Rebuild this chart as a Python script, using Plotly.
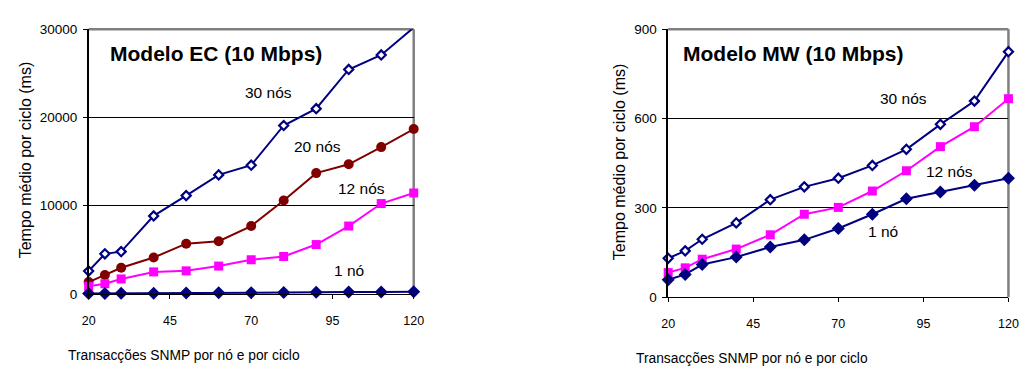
import plotly.graph_objects as go

# Transactions per node per cycle (shared x values)
transacoes = [20, 25, 30, 40, 50, 60, 70, 80, 90, 100, 110, 120]
x_ticks = [20, 45, 70, 95, 120]
ec_ticks = [0, 10000, 20000, 30000]
mw_ticks = [0, 300, 600, 900]

# Modelo EC (10 Mbps) - mean time per cycle (ms)
ec_30_nos = [2600, 4550, 4800, 8850, 11150, 13500, 14600, 19100, 21000, 25450, 27100, 30200]
ec_20_nos = [1350, 2150, 2970, 4130, 5700, 5980, 7700, 10600, 13700, 14700, 16650, 18700]
ec_12_nos = [870, 1160, 1700, 2500, 2620, 3160, 3880, 4250, 5600, 7700, 10250, 11450]
ec_1_no = [40, 55, 70, 90, 110, 130, 150, 170, 190, 210, 230, 250]

# Modelo MW (10 Mbps) - mean time per cycle (ms)
mw_30_nos = [131, 156, 195, 250, 328, 371, 400, 443, 497, 581, 659, 825]
mw_12_nos = [83, 99, 128, 162, 210, 279, 302, 357, 425, 506, 573, 667]
mw_1_no = [59, 77, 110, 135, 169, 193, 231, 279, 331, 354, 376, 400]

NAVY = "#000080"
DARK_RED = "#800000"
MAGENTA = "#FF00FF"
FONT = "Arial, Liberation Sans, sans-serif"
EC_MAX = 30000
MW_MAX = 900


def serie(fig, y, color, symbol, fill, xa, ya, size, ymax):
    hollow = fill == "white"
    # connecting line over every point
    fig.add_trace(go.Scatter(
        x=transacoes, y=y, mode="lines", line=dict(color=color, width=2),
        xaxis=xa, yaxis=ya, cliponaxis=False, showlegend=False, hoverinfo="skip",
    ))
    # markers only for points inside the value scale
    pts = [(xv, yv) for xv, yv in zip(transacoes, y) if yv <= ymax]
    fig.add_trace(go.Scatter(
        x=[p[0] for p in pts], y=[p[1] for p in pts], mode="markers",
        marker=dict(symbol=symbol, size=size, color=fill,
                    line=dict(color=color, width=2.2 if hollow else 0)),
        xaxis=xa, yaxis=ya, cliponaxis=False, showlegend=False,
    ))


fig = go.Figure()
serie(fig, ec_30_nos, NAVY, "diamond", "white", "x", "y", 7, EC_MAX)
serie(fig, ec_20_nos, DARK_RED, "circle", DARK_RED, "x", "y", 10, EC_MAX)
serie(fig, ec_12_nos, MAGENTA, "square", MAGENTA, "x", "y", 9, EC_MAX)
serie(fig, ec_1_no, NAVY, "diamond", NAVY, "x", "y", 10, EC_MAX)

serie(fig, mw_30_nos, NAVY, "diamond", "white", "x2", "y2", 7, MW_MAX)
serie(fig, mw_12_nos, MAGENTA, "square", MAGENTA, "x2", "y2", 9, MW_MAX)
serie(fig, mw_1_no, NAVY, "diamond", NAVY, "x2", "y2", 10, MW_MAX)

xaxis_common = dict(
    range=[20, 120], tickvals=x_ticks, ticktext=[str(v) for v in x_ticks],
    showgrid=False, zeroline=False, showline=True, linecolor="black", linewidth=1,
    ticks="outside", ticklen=4, tickcolor="black", ticklabelstandoff=11,
    tickfont=dict(family=FONT, size=12.5, color="black"),
)
yaxis_common = dict(
    showgrid=True, gridcolor="black", gridwidth=1, zeroline=False,
    showline=True, linecolor="black", linewidth=1.5,
    ticks="outside", ticklen=4, tickcolor="black", ticklabelstandoff=3,
    tickfont=dict(family=FONT, size=13.5, color="black"),
)

fig.update_layout(
    width=1030, height=372,
    margin=dict(l=0, r=0, t=0, b=0),
    paper_bgcolor="white", plot_bgcolor="white",
    font=dict(family=FONT, color="black"),
    xaxis=dict(domain=[0.0806, 0.4015], anchor="y", **xaxis_common),
    yaxis=dict(domain=[0.1962, 0.9374], anchor="x", range=[0, EC_MAX],
               tickvals=ec_ticks, ticktext=[str(v) for v in ec_ticks], **yaxis_common),
    xaxis2=dict(domain=[0.6527, 0.9886], anchor="y2", **xaxis_common),
    yaxis2=dict(domain=[0.1868, 0.9374], anchor="x2", range=[0, MW_MAX],
                tickvals=mw_ticks, ticktext=[str(v) for v in mw_ticks], **yaxis_common),
)

# Grey frame on the top and right of each plot area
for xr, yr in (("x domain", "y domain"), ("x2 domain", "y2 domain")):
    fig.add_shape(type="line", xref=xr, yref=yr, x0=0, x1=1, y0=1, y1=1,
                  line=dict(color="#808080", width=2.5), layer="below")
    fig.add_shape(type="line", xref=xr, yref=yr, x0=1, x1=1, y0=0, y1=1,
                  line=dict(color="#808080", width=2.5), layer="below")


def texto(x, y, s, size, bold=False):
    fig.add_annotation(
        x=x / 1030, y=1 - y / 372, xref="paper", yref="paper",
        text=f"<b>{s}</b>" if bold else s, showarrow=False,
        xanchor="center", yanchor="middle",
        font=dict(family=FONT, size=size, color="black"),
    )


# Titles and series labels
texto(212.5, 48, "Modelo EC (10 Mbps)", 21, bold=True)
texto(266, 89, "30 nós", 15.5)
texto(316, 145.5, "20 nós", 15.5)
texto(360, 189, "12 nós", 15.5)
texto(347.5, 274.5, "1 nó", 15.5)

texto(799.5, 48, "Modelo MW (10 Mbps)", 21, bold=True)
texto(912, 95, "30 nós", 15.5)
texto(958, 171, "12 nós", 15.5)
texto(891, 233.5, "1 nó", 15.5)

# Axis titles
for xc, yc in ((19, 159), (623.5, 161.5)):
    fig.add_annotation(
        x=xc / 1030, y=1 - yc / 372, xref="paper", yref="paper",
        text="Tempo médio por ciclo (ms)", showarrow=False, textangle=-90,
        xanchor="center", yanchor="middle",
        font=dict(family=FONT, size=16, color="black"),
    )
texto(179.5, 363.5, "Transacções SNMP por nó e por ciclo", 13.8)
texto(757.5, 366.5, "Transacções SNMP por nó e por ciclo", 13.8)

fig.write_html("out.html")
